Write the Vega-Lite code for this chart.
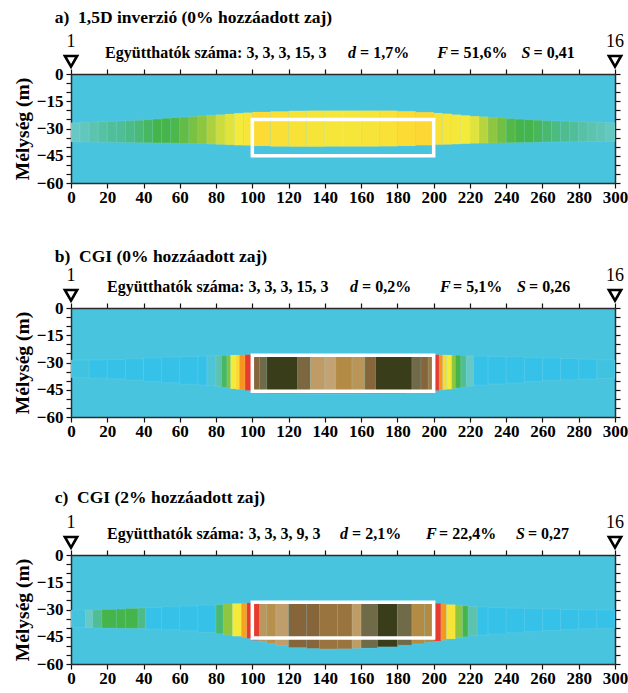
{
  "$schema": "https://vega.github.io/schema/vega-lite/v6.json",
  "padding": {"left": 12, "top": 9, "right": 0, "bottom": 0},
  "datasets": {
    "body": [
      {"p":"a","x0":0,"x1":5,"t":-26.8,"b":-37.4,"v":1.0},
      {"p":"a","x0":5,"x1":10,"t":-26.6,"b":-37.5,"v":1.2},
      {"p":"a","x0":10,"x1":15,"t":-26.5,"b":-37.5,"v":1.5},
      {"p":"a","x0":15,"x1":20,"t":-26.3,"b":-37.6,"v":1.7},
      {"p":"a","x0":20,"x1":25,"t":-26.1,"b":-37.6,"v":1.9},
      {"p":"a","x0":25,"x1":30,"t":-25.9,"b":-37.7,"v":2.0},
      {"p":"a","x0":30,"x1":35,"t":-25.7,"b":-37.7,"v":2.2},
      {"p":"a","x0":35,"x1":40,"t":-25.5,"b":-37.8,"v":2.4},
      {"p":"a","x0":40,"x1":45,"t":-25.2,"b":-37.8,"v":2.7},
      {"p":"a","x0":45,"x1":50,"t":-24.8,"b":-37.9,"v":3.0},
      {"p":"a","x0":50,"x1":55,"t":-24.4,"b":-37.9,"v":3.0},
      {"p":"a","x0":55,"x1":60,"t":-24.1,"b":-38.0,"v":3.1},
      {"p":"a","x0":60,"x1":65,"t":-23.7,"b":-38.1,"v":3.4},
      {"p":"a","x0":65,"x1":70,"t":-23.4,"b":-38.3,"v":3.7},
      {"p":"a","x0":70,"x1":75,"t":-23.0,"b":-38.4,"v":4.0},
      {"p":"a","x0":75,"x1":80,"t":-22.7,"b":-38.6,"v":4.3},
      {"p":"a","x0":80,"x1":85,"t":-22.4,"b":-38.8,"v":4.6},
      {"p":"a","x0":85,"x1":90,"t":-22.0,"b":-39.0,"v":4.8},
      {"p":"a","x0":90,"x1":95,"t":-21.6,"b":-39.2,"v":5.0},
      {"p":"a","x0":95,"x1":100,"t":-21.3,"b":-39.3,"v":5.2},
      {"p":"a","x0":100,"x1":110,"t":-20.9,"b":-39.6,"v":5.8},
      {"p":"a","x0":110,"x1":120,"t":-20.6,"b":-39.9,"v":5.6},
      {"p":"a","x0":120,"x1":130,"t":-20.3,"b":-40.0,"v":5.4},
      {"p":"a","x0":130,"x1":140,"t":-20.2,"b":-40.0,"v":5.3},
      {"p":"a","x0":140,"x1":150,"t":-20.2,"b":-39.9,"v":5.2},
      {"p":"a","x0":150,"x1":160,"t":-20.2,"b":-39.9,"v":5.2},
      {"p":"a","x0":160,"x1":170,"t":-20.2,"b":-39.9,"v":5.3},
      {"p":"a","x0":170,"x1":180,"t":-20.2,"b":-39.8,"v":5.5},
      {"p":"a","x0":180,"x1":190,"t":-20.5,"b":-39.6,"v":5.8},
      {"p":"a","x0":190,"x1":200,"t":-21.0,"b":-39.2,"v":6.0},
      {"p":"a","x0":200,"x1":205,"t":-21.5,"b":-38.9,"v":5.4},
      {"p":"a","x0":205,"x1":210,"t":-21.9,"b":-38.8,"v":5.2},
      {"p":"a","x0":210,"x1":215,"t":-22.4,"b":-38.6,"v":5.1},
      {"p":"a","x0":215,"x1":220,"t":-22.8,"b":-38.4,"v":5.0},
      {"p":"a","x0":220,"x1":225,"t":-23.2,"b":-38.2,"v":4.8},
      {"p":"a","x0":225,"x1":230,"t":-23.5,"b":-38.1,"v":4.4},
      {"p":"a","x0":230,"x1":235,"t":-23.9,"b":-38.0,"v":4.0},
      {"p":"a","x0":235,"x1":240,"t":-24.2,"b":-37.9,"v":3.6},
      {"p":"a","x0":240,"x1":245,"t":-24.6,"b":-37.8,"v":3.2},
      {"p":"a","x0":245,"x1":250,"t":-24.9,"b":-37.7,"v":3.0},
      {"p":"a","x0":250,"x1":255,"t":-25.2,"b":-37.6,"v":3.0},
      {"p":"a","x0":255,"x1":260,"t":-25.5,"b":-37.5,"v":2.8},
      {"p":"a","x0":260,"x1":265,"t":-25.7,"b":-37.4,"v":2.5},
      {"p":"a","x0":265,"x1":270,"t":-25.9,"b":-37.4,"v":2.3},
      {"p":"a","x0":270,"x1":275,"t":-26.0,"b":-37.3,"v":2.1},
      {"p":"a","x0":275,"x1":280,"t":-26.2,"b":-37.3,"v":1.9},
      {"p":"a","x0":280,"x1":285,"t":-26.4,"b":-37.2,"v":1.7},
      {"p":"a","x0":285,"x1":290,"t":-26.5,"b":-37.2,"v":1.5},
      {"p":"a","x0":290,"x1":295,"t":-26.7,"b":-37.2,"v":1.3},
      {"p":"a","x0":295,"x1":300,"t":-26.8,"b":-37.2,"v":1.1},

      {"p":"b","x0":0,"x1":10,"t":-28.6,"b":-38.4,"v":0.2},
      {"p":"b","x0":10,"x1":20,"t":-28.6,"b":-38.6,"v":0},
      {"p":"b","x0":20,"x1":30,"t":-28.4,"b":-39.0,"v":0},
      {"p":"b","x0":30,"x1":40,"t":-28.0,"b":-39.6,"v":0},
      {"p":"b","x0":40,"x1":50,"t":-27.5,"b":-40.4,"v":0},
      {"p":"b","x0":50,"x1":60,"t":-27.0,"b":-41.1,"v":0},
      {"p":"b","x0":60,"x1":70,"t":-26.7,"b":-41.9,"v":0},
      {"p":"b","x0":70,"x1":75,"t":-26.5,"b":-42.4,"v":0},
      {"p":"b","x0":75,"x1":80,"t":-26.3,"b":-42.8,"v":0.5},
      {"p":"b","x0":80,"x1":83,"t":-26.2,"b":-43.2,"v":1.5},
      {"p":"b","x0":83,"x1":86,"t":-26.1,"b":-43.7,"v":2.7},
      {"p":"b","x0":86,"x1":88,"t":-26.0,"b":-44.1,"v":3.8},
      {"p":"b","x0":88,"x1":91,"t":-25.9,"b":-44.5,"v":5.0},
      {"p":"b","x0":91,"x1":93,"t":-25.9,"b":-44.8,"v":6.0},
      {"p":"b","x0":93,"x1":96,"t":-25.8,"b":-45.0,"v":7.0},
      {"p":"b","x0":96,"x1":100,"t":-25.7,"b":-45.4,"v":8.0},
      {"p":"b","x0":100,"x1":104,"t":-25.7,"b":-46.0,"v":11},
      {"p":"b","x0":104,"x1":108,"t":-25.7,"b":-46.5,"v":12},
      {"p":"b","x0":108,"x1":125,"t":-25.7,"b":-47.0,"v":13},
      {"p":"b","x0":125,"x1":132,"t":-25.7,"b":-47.2,"v":11.5},
      {"p":"b","x0":132,"x1":140,"t":-25.7,"b":-47.3,"v":9.3},
      {"p":"b","x0":140,"x1":146,"t":-25.7,"b":-47.3,"v":9.0},
      {"p":"b","x0":146,"x1":155,"t":-25.7,"b":-47.3,"v":10},
      {"p":"b","x0":155,"x1":162,"t":-25.7,"b":-47.2,"v":9.6},
      {"p":"b","x0":162,"x1":168,"t":-25.7,"b":-47.0,"v":11},
      {"p":"b","x0":168,"x1":188,"t":-25.7,"b":-46.8,"v":13},
      {"p":"b","x0":188,"x1":193,"t":-25.7,"b":-46.3,"v":12},
      {"p":"b","x0":193,"x1":197,"t":-25.7,"b":-46.0,"v":11},
      {"p":"b","x0":197,"x1":200,"t":-25.7,"b":-45.8,"v":10.5},
      {"p":"b","x0":200,"x1":203,"t":-25.7,"b":-45.4,"v":8},
      {"p":"b","x0":203,"x1":205,"t":-25.8,"b":-45.2,"v":7},
      {"p":"b","x0":205,"x1":207,"t":-25.8,"b":-45.0,"v":6},
      {"p":"b","x0":207,"x1":210,"t":-25.9,"b":-44.7,"v":5},
      {"p":"b","x0":210,"x1":212,"t":-25.9,"b":-44.4,"v":4},
      {"p":"b","x0":212,"x1":215,"t":-26.0,"b":-44.0,"v":3},
      {"p":"b","x0":215,"x1":218,"t":-26.1,"b":-43.5,"v":2},
      {"p":"b","x0":218,"x1":222,"t":-26.3,"b":-43.0,"v":1},
      {"p":"b","x0":222,"x1":230,"t":-26.5,"b":-42.4,"v":0},
      {"p":"b","x0":230,"x1":240,"t":-26.7,"b":-41.8,"v":0},
      {"p":"b","x0":240,"x1":250,"t":-26.9,"b":-41.2,"v":0},
      {"p":"b","x0":250,"x1":260,"t":-27.2,"b":-40.5,"v":0},
      {"p":"b","x0":260,"x1":270,"t":-27.5,"b":-39.9,"v":0},
      {"p":"b","x0":270,"x1":280,"t":-27.8,"b":-39.5,"v":0},
      {"p":"b","x0":280,"x1":290,"t":-28.2,"b":-39.1,"v":0},
      {"p":"b","x0":290,"x1":300,"t":-28.5,"b":-38.8,"v":0.2},
      {"p":"b","x0":108,"x1":185,"t":-46.4,"b":-47.3,"v":7.3},

      {"p":"c","x0":0,"x1":8,"t":-30.3,"b":-39.9,"v":0.3},
      {"p":"c","x0":8,"x1":12,"t":-30.2,"b":-40.0,"v":1.0},
      {"p":"c","x0":12,"x1":17,"t":-30.2,"b":-40.1,"v":2.0},
      {"p":"c","x0":17,"x1":25,"t":-30.0,"b":-40.2,"v":3.0},
      {"p":"c","x0":25,"x1":30,"t":-29.8,"b":-40.3,"v":3.0},
      {"p":"c","x0":30,"x1":37,"t":-29.5,"b":-40.3,"v":3.0},
      {"p":"c","x0":37,"x1":41,"t":-29.2,"b":-40.4,"v":2.2},
      {"p":"c","x0":41,"x1":50,"t":-28.9,"b":-40.7,"v":0},
      {"p":"c","x0":50,"x1":60,"t":-28.5,"b":-41.1,"v":0},
      {"p":"c","x0":60,"x1":70,"t":-28.1,"b":-41.7,"v":0},
      {"p":"c","x0":70,"x1":80,"t":-27.6,"b":-42.6,"v":0},
      {"p":"c","x0":80,"x1":84,"t":-27.3,"b":-43.3,"v":2.5},
      {"p":"c","x0":84,"x1":89,"t":-27.0,"b":-43.9,"v":4.0},
      {"p":"c","x0":89,"x1":94,"t":-26.7,"b":-44.7,"v":5.0},
      {"p":"c","x0":94,"x1":97,"t":-26.5,"b":-45.3,"v":6.8},
      {"p":"c","x0":97,"x1":100,"t":-26.3,"b":-45.9,"v":8},
      {"p":"c","x0":100,"x1":104,"t":-26.2,"b":-47.0,"v":8},
      {"p":"c","x0":104,"x1":108,"t":-26.2,"b":-47.8,"v":9.5},
      {"p":"c","x0":108,"x1":113,"t":-26.2,"b":-48.6,"v":9.8},
      {"p":"c","x0":113,"x1":120,"t":-26.2,"b":-49.8,"v":9.2},
      {"p":"c","x0":120,"x1":130,"t":-26.2,"b":-50.9,"v":11},
      {"p":"c","x0":130,"x1":137,"t":-26.2,"b":-51.4,"v":11},
      {"p":"c","x0":137,"x1":147,"t":-26.2,"b":-51.7,"v":10.6},
      {"p":"c","x0":147,"x1":155,"t":-26.2,"b":-51.6,"v":10.6},
      {"p":"c","x0":155,"x1":160,"t":-26.2,"b":-51.4,"v":9.3},
      {"p":"c","x0":160,"x1":169,"t":-26.2,"b":-51.2,"v":12},
      {"p":"c","x0":169,"x1":180,"t":-26.2,"b":-50.5,"v":13},
      {"p":"c","x0":180,"x1":188,"t":-26.2,"b":-49.6,"v":12},
      {"p":"c","x0":188,"x1":195,"t":-26.2,"b":-48.9,"v":10},
      {"p":"c","x0":195,"x1":200,"t":-26.2,"b":-48.0,"v":10},
      {"p":"c","x0":200,"x1":204,"t":-26.6,"b":-47.4,"v":8},
      {"p":"c","x0":204,"x1":207,"t":-27.0,"b":-46.9,"v":7},
      {"p":"c","x0":207,"x1":212,"t":-27.3,"b":-46.2,"v":5.3},
      {"p":"c","x0":212,"x1":216,"t":-27.7,"b":-45.5,"v":4},
      {"p":"c","x0":216,"x1":219,"t":-28.0,"b":-45.0,"v":3},
      {"p":"c","x0":219,"x1":224,"t":-28.4,"b":-44.4,"v":1.5},
      {"p":"c","x0":224,"x1":230,"t":-28.6,"b":-44.0,"v":0},
      {"p":"c","x0":230,"x1":240,"t":-28.9,"b":-43.5,"v":0},
      {"p":"c","x0":240,"x1":250,"t":-29.3,"b":-42.8,"v":0},
      {"p":"c","x0":250,"x1":260,"t":-29.6,"b":-42.2,"v":0},
      {"p":"c","x0":260,"x1":270,"t":-29.8,"b":-41.6,"v":0},
      {"p":"c","x0":270,"x1":280,"t":-30.0,"b":-41.0,"v":0},
      {"p":"c","x0":280,"x1":290,"t":-30.2,"b":-40.6,"v":0},
      {"p":"c","x0":290,"x1":300,"t":-30.3,"b":-40.3,"v":0}
    ],
    "box": [
      {"p":"a","x0":100,"x1":200,"t":-25,"b":-45},
      {"p":"b","x0":100,"x1":200,"t":-26,"b":-45.8},
      {"p":"c","x0":100,"x1":200,"t":-26,"b":-45.7}
    ],
    "stats": [
      {"p":"a","title":"a)\u00a0\u00a01,5D inverzió (0% hozzáadott zaj)","coef":"Együtthatók száma: 3, 3, 3, 15, 3","d":"= 1,7%","F":"= 51,6%","S":"= 0,41"},
      {"p":"b","title":"b)\u00a0\u00a0CGI (0% hozzáadott zaj)","coef":"Együtthatók száma: 3, 3, 3, 15, 3","d":"= 0,2%","F":"= 5,1%","S":"= 0,26"},
      {"p":"c","title":"c)\u00a0\u00a0CGI (2% hozzáadott zaj)","coef":"Együtthatók száma: 3, 3, 3, 9, 3","d":"= 2,1%","F":"= 22,4%","S":"= 0,27"}
    ],
    "electrodes": [
      {"x":0,"n":"1"},
      {"x":300,"n":"16"}
    ]
  },
  "spacing": 43,
  "vconcat": [
    {
      "width": 544, "height": 109,
      "resolve": {"axis": {"x": "independent", "y": "independent"}},
      "layer": [
        {
          "data": {"name": "body"},
          "transform": [{"filter": "datum.p == 'a'"}],
          "mark": {"type": "rect", "stroke": "#ffffff", "strokeWidth": 0.5, "strokeOpacity": 0.18},
          "encoding": {
            "x": {"field": "x0", "type": "quantitative", "scale": {"domain": [0, 300], "nice": false, "zero": false},
                  "axis": {"orient": "bottom", "values": [0,20,40,60,80,100,120,140,160,180,200,220,240,260,280,300], "format": "d", "title": null, "labelFlush": false, "labelOverlap": false, "labelPadding": 1}},
            "x2": {"field": "x1"},
            "y": {"field": "t", "type": "quantitative", "scale": {"domain": [-60, 0], "nice": false, "zero": false},
                  "axis": {"orient": "left", "values": [-60,-55,-50,-45,-40,-35,-30,-25,-20,-15,-10,-5,0], "labelExpr": "datum.value % 15 === 0 ? format(datum.value, 'd') : ''", "title": "Mélység (m)", "labelPadding": 3, "titlePadding": 4, "labelFlush": false, "labelOverlap": false}},
            "y2": {"field": "b"},
            "color": {"field": "v", "type": "quantitative", "legend": null,
                      "scale": {"domain": [0,1,2,3,4,5,6,7,8,9,10,11,12,13], "range": ["#35c1e8","#66c9c6","#4fbd95","#45b54b","#8ec63f","#f4ea3a","#fdd733","#f6951f","#e63b2e","#c3a374","#b48b45","#87653a","#6f6a48","#3a3d19"], "interpolate": "rgb"}}
          }
        },
        {
          "data": {"name": "box"},
          "transform": [{"filter": "datum.p == 'a'"}],
          "mark": {"type": "rect", "fill": null, "fillOpacity": 0, "stroke": "#ffffff", "strokeWidth": 3.5},
          "encoding": {
            "x": {"field": "x0", "type": "quantitative", "axis": {"orient": "top", "values": [0,20,40,60,80,100,120,140,160,180,200,220,240,260,280,300], "labels": false, "title": null}},
            "x2": {"field": "x1"},
            "y": {"field": "t", "type": "quantitative", "axis": {"orient": "right", "values": [-60,-55,-50,-45,-40,-35,-30,-25,-20,-15,-10,-5,0], "labels": false, "title": null}},
            "y2": {"field": "b"}
          }
        },
        {
          "data": {"name": "electrodes"},
          "mark": {"type": "point", "shape": "triangle-down", "size": 150, "filled": true, "fill": "#ffffff", "stroke": "#000000", "strokeWidth": 2.6, "opacity": 1},
          "encoding": {"x": {"field": "x", "type": "quantitative", "axis": null}, "y": {"datum": 7, "axis": null}}
        },
        {
          "data": {"name": "electrodes"},
          "mark": {"type": "text", "fontWeight": "normal", "fontSize": 18, "baseline": "middle"},
          "encoding": {"x": {"field": "x", "type": "quantitative", "axis": null}, "y": {"datum": 17.6, "axis": null}, "text": {"field": "n"}}
        },
        {
          "data": {"name": "stats"},
          "transform": [{"filter": "datum.p == 'a'"}],
          "layer": [
            {"mark": {"type": "text", "align": "left", "baseline": "middle", "fontSize": 17.5},
             "encoding": {"x": {"datum": -9, "axis": null}, "y": {"datum": 30.8, "axis": null}, "text": {"field": "title"}}},
            {"mark": {"type": "text", "align": "left", "baseline": "middle", "fontSize": 16},
             "encoding": {"x": {"datum": 18.8, "axis": null}, "y": {"datum": 11.5, "axis": null}, "text": {"field": "coef"}}},
            {"mark": {"type": "text", "align": "left", "baseline": "middle", "fontSize": 16, "fontStyle": "italic", "text": "d"},
             "encoding": {"x": {"datum": 152.8, "axis": null}, "y": {"datum": 11.5, "axis": null}}},
            {"mark": {"type": "text", "align": "left", "baseline": "middle", "fontSize": 16, "dx": 12},
             "encoding": {"x": {"datum": 152.8, "axis": null}, "y": {"datum": 11.5, "axis": null}, "text": {"field": "d"}}},
            {"mark": {"type": "text", "align": "left", "baseline": "middle", "fontSize": 16, "fontStyle": "italic", "text": "F"},
             "encoding": {"x": {"datum": 202.0, "axis": null}, "y": {"datum": 11.5, "axis": null}}},
            {"mark": {"type": "text", "align": "left", "baseline": "middle", "fontSize": 16, "dx": 13},
             "encoding": {"x": {"datum": 202.0, "axis": null}, "y": {"datum": 11.5, "axis": null}, "text": {"field": "F"}}},
            {"mark": {"type": "text", "align": "left", "baseline": "middle", "fontSize": 16, "fontStyle": "italic", "text": "S"},
             "encoding": {"x": {"datum": 248.5, "axis": null}, "y": {"datum": 11.5, "axis": null}}},
            {"mark": {"type": "text", "align": "left", "baseline": "middle", "fontSize": 16, "dx": 12},
             "encoding": {"x": {"datum": 248.5, "axis": null}, "y": {"datum": 11.5, "axis": null}, "text": {"field": "S"}}}
          ]
        }
      ]
    },
    {
      "spacing": 49,
      "vconcat": [
        {
          "width": 544, "height": 109,
          "resolve": {"axis": {"x": "independent", "y": "independent"}},
          "layer": [
            {
              "data": {"name": "body"},
              "transform": [{"filter": "datum.p == 'b'"}],
              "mark": {"type": "rect", "stroke": "#ffffff", "strokeWidth": 0.5, "strokeOpacity": 0.18},
              "encoding": {
                "x": {"field": "x0", "type": "quantitative", "scale": {"domain": [0, 300], "nice": false, "zero": false},
                      "axis": {"orient": "bottom", "values": [0,20,40,60,80,100,120,140,160,180,200,220,240,260,280,300], "format": "d", "title": null, "labelFlush": false, "labelOverlap": false, "labelPadding": 1}},
                "x2": {"field": "x1"},
                "y": {"field": "t", "type": "quantitative", "scale": {"domain": [-60, 0], "nice": false, "zero": false},
                      "axis": {"orient": "left", "values": [-60,-55,-50,-45,-40,-35,-30,-25,-20,-15,-10,-5,0], "labelExpr": "datum.value % 15 === 0 ? format(datum.value, 'd') : ''", "title": "Mélység (m)", "labelPadding": 3, "titlePadding": 4, "labelFlush": false, "labelOverlap": false}},
                "y2": {"field": "b"},
                "color": {"field": "v", "type": "quantitative", "legend": null,
                          "scale": {"domain": [0,1,2,3,4,5,6,7,8,9,10,11,12,13], "range": ["#35c1e8","#66c9c6","#4fbd95","#45b54b","#8ec63f","#f4ea3a","#fdd733","#f6951f","#e63b2e","#c3a374","#b48b45","#87653a","#6f6a48","#3a3d19"], "interpolate": "rgb"}}
              }
            },
            {
              "data": {"name": "box"},
              "transform": [{"filter": "datum.p == 'b'"}],
              "mark": {"type": "rect", "fill": null, "fillOpacity": 0, "stroke": "#ffffff", "strokeWidth": 3.5},
              "encoding": {
                "x": {"field": "x0", "type": "quantitative", "axis": {"orient": "top", "values": [0,20,40,60,80,100,120,140,160,180,200,220,240,260,280,300], "labels": false, "title": null}},
                "x2": {"field": "x1"},
                "y": {"field": "t", "type": "quantitative", "axis": {"orient": "right", "values": [-60,-55,-50,-45,-40,-35,-30,-25,-20,-15,-10,-5,0], "labels": false, "title": null}},
                "y2": {"field": "b"}
              }
            },
            {
              "data": {"name": "electrodes"},
              "mark": {"type": "point", "shape": "triangle-down", "size": 150, "filled": true, "fill": "#ffffff", "stroke": "#000000", "strokeWidth": 2.6, "opacity": 1},
              "encoding": {"x": {"field": "x", "type": "quantitative", "axis": null}, "y": {"datum": 7, "axis": null}}
            },
            {
              "data": {"name": "electrodes"},
              "mark": {"type": "text", "fontWeight": "normal", "fontSize": 18, "baseline": "middle"},
              "encoding": {"x": {"field": "x", "type": "quantitative", "axis": null}, "y": {"datum": 17.6, "axis": null}, "text": {"field": "n"}}
            },
            {
              "data": {"name": "stats"},
              "transform": [{"filter": "datum.p == 'b'"}],
              "layer": [
                {"mark": {"type": "text", "align": "left", "baseline": "middle", "fontSize": 17.5},
                 "encoding": {"x": {"datum": -9, "axis": null}, "y": {"datum": 28, "axis": null}, "text": {"field": "title"}}},
                {"mark": {"type": "text", "align": "left", "baseline": "middle", "fontSize": 16},
                 "encoding": {"x": {"datum": 19.9, "axis": null}, "y": {"datum": 11.5, "axis": null}, "text": {"field": "coef"}}},
                {"mark": {"type": "text", "align": "left", "baseline": "middle", "fontSize": 16, "fontStyle": "italic", "text": "d"},
                 "encoding": {"x": {"datum": 153.9, "axis": null}, "y": {"datum": 11.5, "axis": null}}},
                {"mark": {"type": "text", "align": "left", "baseline": "middle", "fontSize": 16, "dx": 12},
                 "encoding": {"x": {"datum": 153.9, "axis": null}, "y": {"datum": 11.5, "axis": null}, "text": {"field": "d"}}},
                {"mark": {"type": "text", "align": "left", "baseline": "middle", "fontSize": 16, "fontStyle": "italic", "text": "F"},
                 "encoding": {"x": {"datum": 203.5, "axis": null}, "y": {"datum": 11.5, "axis": null}}},
                {"mark": {"type": "text", "align": "left", "baseline": "middle", "fontSize": 16, "dx": 13},
                 "encoding": {"x": {"datum": 203.5, "axis": null}, "y": {"datum": 11.5, "axis": null}, "text": {"field": "F"}}},
                {"mark": {"type": "text", "align": "left", "baseline": "middle", "fontSize": 16, "fontStyle": "italic", "text": "S"},
                 "encoding": {"x": {"datum": 246.0, "axis": null}, "y": {"datum": 11.5, "axis": null}}},
                {"mark": {"type": "text", "align": "left", "baseline": "middle", "fontSize": 16, "dx": 12},
                 "encoding": {"x": {"datum": 246.0, "axis": null}, "y": {"datum": 11.5, "axis": null}, "text": {"field": "S"}}}
              ]
            }
          ]
        },
        {
          "width": 544, "height": 109,
          "resolve": {"axis": {"x": "independent", "y": "independent"}},
          "layer": [
            {
              "data": {"name": "body"},
              "transform": [{"filter": "datum.p == 'c'"}],
              "mark": {"type": "rect", "stroke": "#ffffff", "strokeWidth": 0.5, "strokeOpacity": 0.18},
              "encoding": {
                "x": {"field": "x0", "type": "quantitative", "scale": {"domain": [0, 300], "nice": false, "zero": false},
                      "axis": {"orient": "bottom", "values": [0,20,40,60,80,100,120,140,160,180,200,220,240,260,280,300], "format": "d", "title": null, "labelFlush": false, "labelOverlap": false, "labelPadding": 1}},
                "x2": {"field": "x1"},
                "y": {"field": "t", "type": "quantitative", "scale": {"domain": [-60, 0], "nice": false, "zero": false},
                      "axis": {"orient": "left", "values": [-60,-55,-50,-45,-40,-35,-30,-25,-20,-15,-10,-5,0], "labelExpr": "datum.value % 15 === 0 ? format(datum.value, 'd') : ''", "title": "Mélység (m)", "labelPadding": 3, "titlePadding": 4, "labelFlush": false, "labelOverlap": false}},
                "y2": {"field": "b"},
                "color": {"field": "v", "type": "quantitative", "legend": null,
                          "scale": {"domain": [0,1,2,3,4,5,6,7,8,9,10,11,12,13], "range": ["#35c1e8","#66c9c6","#4fbd95","#45b54b","#8ec63f","#f4ea3a","#fdd733","#f6951f","#e63b2e","#c3a374","#b48b45","#87653a","#6f6a48","#3a3d19"], "interpolate": "rgb"}}
              }
            },
            {
              "data": {"name": "box"},
              "transform": [{"filter": "datum.p == 'c'"}],
              "mark": {"type": "rect", "fill": null, "fillOpacity": 0, "stroke": "#ffffff", "strokeWidth": 3.5},
              "encoding": {
                "x": {"field": "x0", "type": "quantitative", "axis": {"orient": "top", "values": [0,20,40,60,80,100,120,140,160,180,200,220,240,260,280,300], "labels": false, "title": null}},
                "x2": {"field": "x1"},
                "y": {"field": "t", "type": "quantitative", "axis": {"orient": "right", "values": [-60,-55,-50,-45,-40,-35,-30,-25,-20,-15,-10,-5,0], "labels": false, "title": null}},
                "y2": {"field": "b"}
              }
            },
            {
              "data": {"name": "electrodes"},
              "mark": {"type": "point", "shape": "triangle-down", "size": 150, "filled": true, "fill": "#ffffff", "stroke": "#000000", "strokeWidth": 2.6, "opacity": 1},
              "encoding": {"x": {"field": "x", "type": "quantitative", "axis": null}, "y": {"datum": 7, "axis": null}}
            },
            {
              "data": {"name": "electrodes"},
              "mark": {"type": "text", "fontWeight": "normal", "fontSize": 18, "baseline": "middle"},
              "encoding": {"x": {"field": "x", "type": "quantitative", "axis": null}, "y": {"datum": 17.6, "axis": null}, "text": {"field": "n"}}
            },
            {
              "data": {"name": "stats"},
              "transform": [{"filter": "datum.p == 'c'"}],
              "layer": [
                {"mark": {"type": "text", "align": "left", "baseline": "middle", "fontSize": 17.5},
                 "encoding": {"x": {"datum": -9, "axis": null}, "y": {"datum": 31.4, "axis": null}, "text": {"field": "title"}}},
                {"mark": {"type": "text", "align": "left", "baseline": "middle", "fontSize": 16},
                 "encoding": {"x": {"datum": 19.9, "axis": null}, "y": {"datum": 11.5, "axis": null}, "text": {"field": "coef"}}},
                {"mark": {"type": "text", "align": "left", "baseline": "middle", "fontSize": 16, "fontStyle": "italic", "text": "d"},
                 "encoding": {"x": {"datum": 148.4, "axis": null}, "y": {"datum": 11.5, "axis": null}}},
                {"mark": {"type": "text", "align": "left", "baseline": "middle", "fontSize": 16, "dx": 12},
                 "encoding": {"x": {"datum": 148.4, "axis": null}, "y": {"datum": 11.5, "axis": null}, "text": {"field": "d"}}},
                {"mark": {"type": "text", "align": "left", "baseline": "middle", "fontSize": 16, "fontStyle": "italic", "text": "F"},
                 "encoding": {"x": {"datum": 195.8, "axis": null}, "y": {"datum": 11.5, "axis": null}}},
                {"mark": {"type": "text", "align": "left", "baseline": "middle", "fontSize": 16, "dx": 13},
                 "encoding": {"x": {"datum": 195.8, "axis": null}, "y": {"datum": 11.5, "axis": null}, "text": {"field": "F"}}},
                {"mark": {"type": "text", "align": "left", "baseline": "middle", "fontSize": 16, "fontStyle": "italic", "text": "S"},
                 "encoding": {"x": {"datum": 245.4, "axis": null}, "y": {"datum": 11.5, "axis": null}}},
                {"mark": {"type": "text", "align": "left", "baseline": "middle", "fontSize": 16, "dx": 12},
                 "encoding": {"x": {"datum": 245.4, "axis": null}, "y": {"datum": 11.5, "axis": null}, "text": {"field": "S"}}}
              ]
            }
          ]
        }
      ]
    }
  ],
  "config": {
    "view": {"stroke": null, "fill": "#48c4df"},
    "font": "Liberation Serif",
    "axis": {"labelFont": "Liberation Serif", "labelFontWeight": "bold", "labelFontSize": 17, "labelColor": "#000000", "titleFont": "Liberation Serif", "titleFontWeight": "bold", "titleFontSize": 19.5, "titleColor": "#000000", "domainColor": "#2b2b2b", "domainWidth": 1.5, "tickColor": "#111111", "tickWidth": 1.2, "tickSize": 5, "grid": false},
    "text": {"font": "Liberation Serif", "fontWeight": "bold", "color": "#000000"}
  }
}
